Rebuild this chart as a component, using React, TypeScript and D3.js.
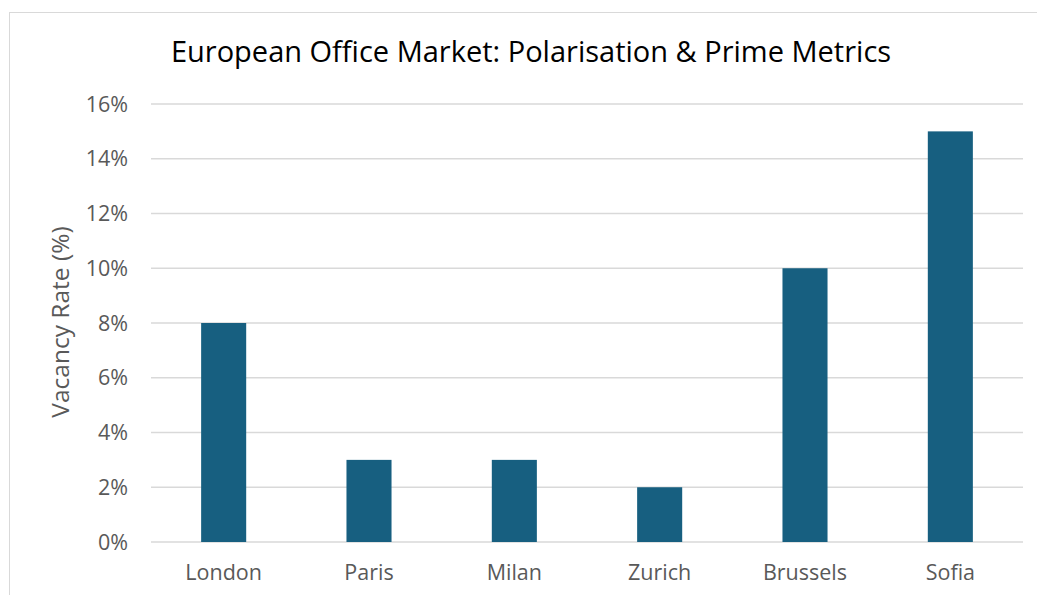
import React from "react";
import * as d3 from "d3";

const cities = ["London", "Paris", "Milan", "Zurich", "Brussels", "Sofia"];
const vacancy = [8, 3, 3, 2, 10, 15];
const yTicks = [0, 2, 4, 6, 8, 10, 12, 14, 16];
const title = "European Office Market: Polarisation & Prime Metrics";
const yLabel = "Vacancy Rate (%)";

const W = 1037, H = 595;
const plot = { left: 151, right: 1023, top: 104, bottom: 542 };
const FONT = "'Open Sans', sans-serif";

export default function App() {
  const x = d3.scaleBand<string>().domain(cities).range([plot.left, plot.right]).padding(0);
  const y = d3.scaleLinear().domain([0, 16]).range([plot.bottom, plot.top]);
  const bw = x.bandwidth() * 0.31;
  return (
    <svg width={W} height={H} style={{ position: "absolute", left: 0, top: 0, background: "#fff" }}>
      <rect x={9.5} y={12.5} width={1040} height={600} fill="#fff" stroke="#d9d9d9" strokeWidth={1} />
      <text x={531} y={62} textAnchor="middle" fontFamily={FONT} fontSize={29} fill="#000">{title}</text>
      {yTicks.map((t) => (
        <g key={t}>
          <line x1={plot.left} x2={plot.right} y1={y(t)} y2={y(t)} stroke="#d9d9d9" strokeWidth={1.3} />
          <text x={128} y={y(t)} dy="0.36em" textAnchor="end" fontFamily={FONT} fontSize={21.5} fill="#595959">{t}%</text>
        </g>
      ))}
      {cities.map((c, i) => (
        <g key={c}>
          <rect x={x(c)! + x.bandwidth() / 2 - bw / 2} y={y(vacancy[i])} width={bw} height={y(0) - y(vacancy[i])} fill="#175f80" />
          <text x={x(c)! + x.bandwidth() / 2} y={580} textAnchor="middle" fontFamily={FONT} fontSize={21.5} fill="#595959">{c}</text>
        </g>
      ))}
      <text transform={`translate(69,322) rotate(-90)`} textAnchor="middle" fontFamily={FONT} fontSize={24.5} fill="#595959">{yLabel}</text>
    </svg>
  );
}
